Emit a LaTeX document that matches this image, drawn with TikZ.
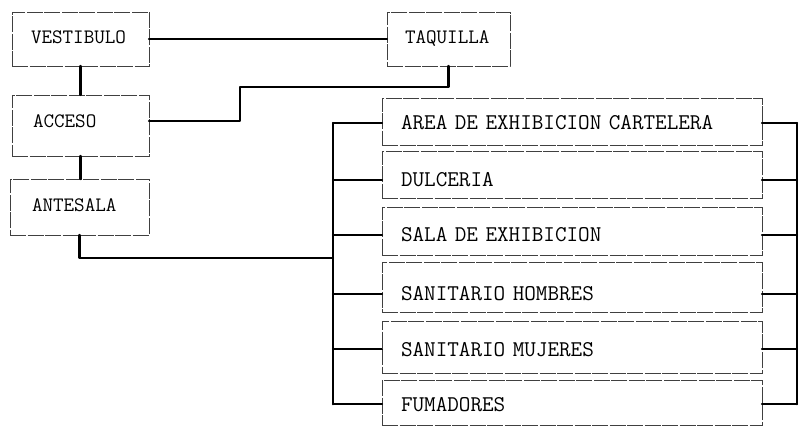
\documentclass[tikz,border=0pt]{standalone}
\usepackage{fontspec}
\begin{document}
\begin{tikzpicture}[x=1pt,y=-1pt,
  boxline/.style={draw=black!75, line width=0.6pt, dash pattern=on 16pt off 1.5pt,
    rectangle, anchor=north west, inner ysep=0pt, outer sep=0pt, align=left},
  lbox/.style={boxline, font=\ttfamily\fontsize{20.5}{22}\selectfont},
  rbox/.style={boxline, font=\ttfamily\fontsize{22.5}{24}\selectfont,
    inner xsep=19pt, text width=342pt},
  conn/.style={line width=2.4pt, line cap=round, line join=round}]
\useasboundingbox (0,0) rectangle (800,427);

% left column
\node[lbox, inner xsep=19pt, text width=99pt, text height=31.5pt, text depth=22.5pt] (ves) at (12,12) {VESTIBULO};
\node[lbox, inner xsep=18pt, text width=87pt, text height=32pt, text depth=22pt] (taq) at (387,12) {TAQUILLA};
\node[lbox, inner xsep=21pt, text width=95pt, text height=32.5pt, text depth=28.5pt] (acc) at (12,95) {ACCESO};
\node[lbox, inner xsep=22pt, text width=95pt, text height=32.5pt, text depth=23.5pt] (ant) at (10,179) {ANTESALA};

% right column
\node[rbox, text height=32pt, text depth=15pt] (r1) at (382,98) {AREA DE EXHIBICION CARTELERA};
\node[rbox, text height=36pt, text depth=11pt] (r2) at (382,151) {DULCERIA};
\node[rbox, text height=35pt, text depth=13pt] (r3) at (382,207) {SALA DE EXHIBICION};
\node[rbox, text height=39pt, text depth=11pt] (r4) at (382,262) {SANITARIO HOMBRES};
\node[rbox, text height=35pt, text depth=17pt] (r5) at (382,321) {SANITARIO MUJERES};
\node[rbox, text height=31pt, text depth=14pt] (r6) at (382,380) {FUMADORES};

% helper coordinates
\coordinate (accE) at ([yshift=6.4pt]acc.base east);
\coordinate (k1) at (240,87);
\coordinate (busL) at (333,258);
\foreach \r in {r1,r2,r3,r4,r5,r6}{
  \coordinate (\r w) at ([yshift=6.9pt]\r.base west);
  \coordinate (\r e) at ([yshift=6.9pt]\r.base east);
}
\coordinate (lt) at (333,0);
\coordinate (rt) at (797,0);

% connectors
\draw[conn] (ves.east) -- (ves.east -| taq.west);
\draw[conn] (ves.south) -- (ves.south |- acc.north);
\draw[conn] (accE) -| (k1) -| (taq.south);
\draw[conn] (acc.south) -- (acc.south |- ant.north);
\draw[conn] (ant.south) |- (busL);

% left bus
\draw[conn] (lt |- r1w) -- (lt |- r6w);
\foreach \r in {r1,r2,r3,r4,r5,r6}{
  \draw[conn] (lt |- \r w) -- (\r w);
}
% right bus
\draw[conn] (rt |- r1e) -- (rt |- r6e);
\foreach \r in {r1,r2,r3,r4,r5,r6}{
  \draw[conn] (\r e) -- (rt |- \r e);
}
\end{tikzpicture}
\end{document}
